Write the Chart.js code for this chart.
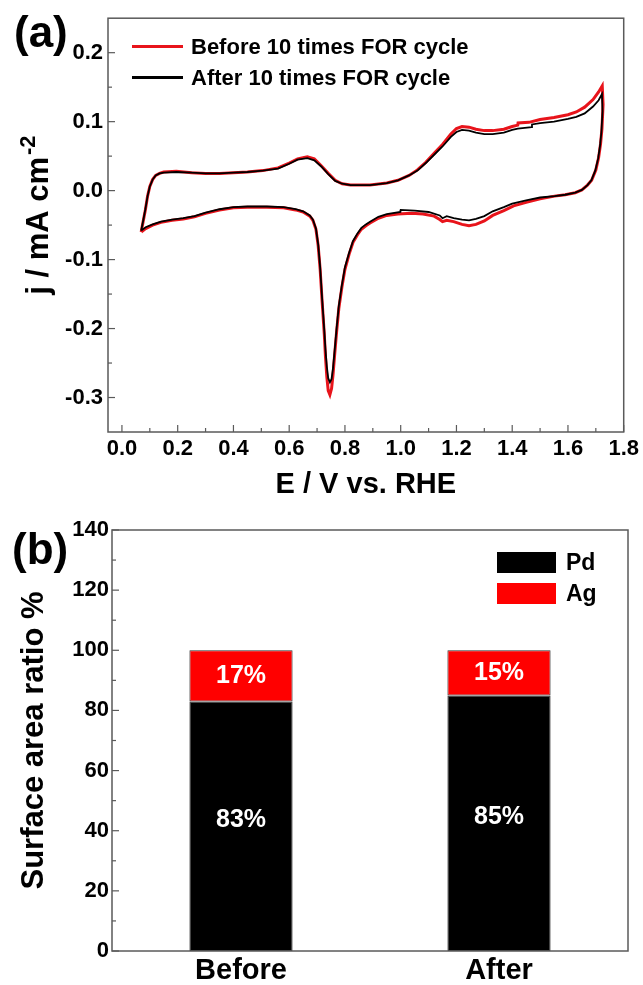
<!DOCTYPE html>
<html>
<head>
<meta charset="utf-8">
<script src="https://cdn.jsdelivr.net/npm/chart.js@4.4.1/dist/chart.umd.min.js"></script>
<style>
  html, body { margin: 0; padding: 0; background: #fff; }
  body { width: 643px; height: 985px; position: relative; overflow: hidden;
         font-family: 'Liberation Sans', Arial, sans-serif; }
  .panel { position: absolute; left: 0; width: 643px; }
  #boxA { top: 0; height: 505px; }
  #boxB { top: 505px; height: 480px; }
  .tag { position: absolute; font-weight: bold; font-size: 44px; line-height: 44px; }
  .leg { position: absolute; font-weight: bold; white-space: nowrap; }
  .leg .row { display: flex; align-items: center; }
  .leg .mark { flex: none; }
</style>
</head>
<body>
<div class="panel" id="boxA">
  <canvas id="cv" width="643" height="505"></canvas>
  <div class="tag" style="left:14px; top:10px;">(a)</div>
  <div class="leg" id="legA" style="left:132px; top:31px;"></div>
</div>
<div class="panel" id="boxB">
  <canvas id="bars" width="643" height="480"></canvas>
  <div class="tag" style="left:12px; top:22px;">(b)</div>
  <div class="leg" id="legB" style="left:497px; top:42px;"></div>
</div>
<script>
const FONT = "'Liberation Sans', Arial, sans-serif";
const NARROW = "'Liberation Sans Narrow', 'Arial Narrow', 'Liberation Sans', Arial, sans-serif";
Chart.defaults.font.family = FONT;
Chart.defaults.color = '#000';

// --- (a) CV data ---
const beforeE = [0.069, 0.076, 0.084, 0.092, 0.100, 0.110, 0.121, 0.135, 0.150, 0.195, 0.25, 0.30, 0.35, 0.40, 0.45, 0.505, 0.56, 0.60, 0.63, 0.665, 0.69, 0.715, 0.74, 0.765, 0.79, 0.82, 0.89, 0.95, 0.99, 1.03, 1.06, 1.09, 1.12, 1.15, 1.18, 1.20, 1.22, 1.245, 1.27, 1.30, 1.33, 1.37, 1.40, 1.42, 1.421, 1.46, 1.50, 1.55, 1.60, 1.63, 1.66, 1.69, 1.71, 1.723,
  1.726, 1.722, 1.717, 1.710, 1.700, 1.685, 1.670, 1.650, 1.626, 1.59, 1.552, 1.50, 1.45, 1.405, 1.37, 1.33, 1.30, 1.27, 1.245, 1.22, 1.19, 1.165, 1.15, 1.14, 1.12, 1.08, 1.04, 0.99, 0.95, 0.92, 0.89, 0.875, 0.859, 0.845, 0.829, 0.815, 0.800, 0.789, 0.778, 0.770, 0.763, 0.757, 0.752, 0.746, 0.740, 0.735, 0.730, 0.726, 0.718, 0.711, 0.704, 0.696, 0.685, 0.674, 0.65, 0.623, 0.58, 0.52, 0.45, 0.40, 0.35, 0.30, 0.26, 0.22, 0.18, 0.14, 0.11, 0.085, 0.069];
const beforeJ = [-0.060, -0.045, -0.028, -0.008, 0.006, 0.016, 0.022, 0.025, 0.027, 0.028, 0.026, 0.025, 0.025, 0.026, 0.027, 0.029, 0.033, 0.040, 0.046, 0.049, 0.046, 0.036, 0.025, 0.015, 0.010, 0.008, 0.008, 0.011, 0.015, 0.022, 0.030, 0.041, 0.054, 0.067, 0.082, 0.090, 0.093, 0.092, 0.089, 0.087, 0.087, 0.089, 0.093, 0.095, 0.098, 0.099, 0.103, 0.106, 0.110, 0.114, 0.121, 0.132, 0.143, 0.152,
  0.125, 0.090, 0.068, 0.048, 0.030, 0.015, 0.008, 0.001, -0.003, -0.006, -0.008, -0.012, -0.017, -0.022, -0.029, -0.036, -0.044, -0.049, -0.051, -0.049, -0.045, -0.043, -0.045, -0.042, -0.037, -0.034, -0.033, -0.034, -0.036, -0.040, -0.047, -0.051, -0.056, -0.064, -0.075, -0.092, -0.114, -0.140, -0.171, -0.205, -0.238, -0.268, -0.287, -0.296, -0.290, -0.270, -0.240, -0.209, -0.160, -0.114, -0.080, -0.056, -0.043, -0.037, -0.031, -0.028, -0.025, -0.024, -0.024, -0.025, -0.028, -0.033, -0.038, -0.041, -0.043, -0.046, -0.050, -0.055, -0.060];

const afterE = [0.069, 0.076, 0.084, 0.092, 0.100, 0.110, 0.121, 0.135, 0.150, 0.195, 0.25, 0.30, 0.35, 0.40, 0.45, 0.505, 0.56, 0.60, 0.63, 0.665, 0.69, 0.715, 0.74, 0.765, 0.79, 0.82, 0.89, 0.95, 0.99, 1.03, 1.06, 1.09, 1.12, 1.15, 1.18, 1.20, 1.22, 1.245, 1.27, 1.30, 1.33, 1.37, 1.40, 1.42, 1.47, 1.471, 1.50, 1.55, 1.60, 1.63, 1.66, 1.69, 1.71, 1.722,
  1.724, 1.720, 1.715, 1.708, 1.698, 1.684, 1.670, 1.650, 1.626, 1.59, 1.552, 1.50, 1.45, 1.40, 1.37, 1.33, 1.30, 1.27, 1.245, 1.22, 1.19, 1.165, 1.15, 1.14, 1.10, 1.05, 1.00, 0.999, 0.95, 0.92, 0.89, 0.875, 0.859, 0.845, 0.829, 0.815, 0.800, 0.789, 0.778, 0.770, 0.763, 0.757, 0.752, 0.746, 0.740, 0.735, 0.730, 0.726, 0.718, 0.711, 0.704, 0.696, 0.685, 0.674, 0.65, 0.623, 0.58, 0.52, 0.45, 0.40, 0.35, 0.30, 0.26, 0.22, 0.18, 0.14, 0.11, 0.085, 0.069];
const afterJ = [-0.058, -0.044, -0.027, -0.008, 0.006, 0.016, 0.022, 0.025, 0.026, 0.027, 0.026, 0.025, 0.025, 0.026, 0.027, 0.029, 0.032, 0.039, 0.045, 0.047, 0.044, 0.035, 0.024, 0.014, 0.010, 0.008, 0.008, 0.011, 0.015, 0.022, 0.029, 0.040, 0.052, 0.064, 0.078, 0.085, 0.088, 0.087, 0.084, 0.082, 0.082, 0.084, 0.088, 0.090, 0.092, 0.096, 0.098, 0.100, 0.104, 0.107, 0.112, 0.122, 0.131, 0.140,
  0.115, 0.085, 0.065, 0.046, 0.029, 0.015, 0.008, 0.001, -0.003, -0.006, -0.008, -0.010, -0.014, -0.019, -0.024, -0.030, -0.037, -0.041, -0.043, -0.042, -0.040, -0.037, -0.040, -0.036, -0.031, -0.029, -0.028, -0.031, -0.034, -0.038, -0.045, -0.049, -0.054, -0.062, -0.073, -0.090, -0.111, -0.137, -0.167, -0.200, -0.232, -0.258, -0.273, -0.278, -0.272, -0.255, -0.230, -0.203, -0.156, -0.111, -0.078, -0.055, -0.042, -0.036, -0.030, -0.027, -0.024, -0.023, -0.023, -0.024, -0.027, -0.032, -0.037, -0.040, -0.042, -0.045, -0.049, -0.053, -0.058];

const eTicks = [0, 0.2, 0.4, 0.6, 0.8, 1.0, 1.2, 1.4, 1.6, 1.8];
const jTicks = [-0.3, -0.2, -0.1, 0, 0.1, 0.2];

// --- (b) surface ratio data ---
const samples = ['Before', 'After'];
const pdRatio = [83, 85];
const agRatio = [17, 15];
const ratioTicks = [0, 20, 40, 60, 80, 100, 120, 140];

const RED = '#e8141b';
const AXIS = '#5a5a5a';

function zip(xs, ys) { return xs.map((x, i) => ({ x: x, y: ys[i] })); }
function mids(t) { return t.slice(1).map((v, i) => (v + t[i]) / 2); }

// frame round the plot area plus inward ticks (major from scale ticks, minor halfway)
const frameTicks = {
  id: 'frameTicks',
  afterDraw(chart, args, opts) {
    const ctx = chart.ctx, a = chart.chartArea;
    ctx.save();
    ctx.strokeStyle = AXIS;
    ctx.lineWidth = 1.5;
    ctx.strokeRect(a.left, a.top, a.right - a.left, a.bottom - a.top);
    ctx.lineWidth = 1.2;
    (opts.axes || []).forEach(ax => {
      const s = chart.scales[ax.id];
      const tick = (v, len) => {
        const p = s.getPixelForValue(v);
        ctx.beginPath();
        if (s.isHorizontal()) { ctx.moveTo(p, a.bottom); ctx.lineTo(p, a.bottom - len); }
        else { ctx.moveTo(a.left, p); ctx.lineTo(a.left + len, p); }
        ctx.stroke();
      };
      const vals = s.ticks.map(t => t.value);
      vals.forEach(v => tick(v, 7));
      mids(vals).forEach(v => tick(v, 4));
    });
    ctx.restore();
  }
};

// y title of (a) with a real superscript
const supTitle = {
  id: 'supTitle',
  afterDraw(chart, args, o) {
    if (!o.text) return;
    const ctx = chart.ctx, a = chart.chartArea;
    ctx.save();
    ctx.translate(o.x, (a.top + a.bottom) / 2 + (o.shift || 0));
    ctx.rotate(-Math.PI / 2);
    ctx.fillStyle = '#000';
    ctx.textBaseline = 'alphabetic';
    const main = 'bold ' + o.size + 'px ' + FONT;
    const sup = 'bold ' + o.supSize + 'px ' + FONT;
    ctx.font = main;
    const w1 = ctx.measureText(o.text).width;
    ctx.font = sup;
    const w2 = ctx.measureText(o.sup).width;
    const x0 = -(w1 + w2 + 2) / 2;
    const base = o.size * 0.36;
    ctx.font = main;
    ctx.fillText(o.text, x0, base);
    ctx.font = sup;
    ctx.fillText(o.sup, x0 + w1 + 2, base - o.size * 0.42);
    ctx.restore();
  }
};

const cvSets = [
  { label: 'Before 10 times FOR cycle', data: zip(beforeE, beforeJ), borderColor: RED, borderWidth: 3, order: 2 },
  { label: 'After 10 times FOR cycle', data: zip(afterE, afterJ), borderColor: '#000', borderWidth: 1.8, order: 1 }
];

new Chart(document.getElementById('cv'), {
  type: 'scatter',
  data: { datasets: cvSets.map(d => Object.assign({ showLine: true, pointRadius: 0, tension: 0, fill: false }, d)) },
  options: {
    responsive: false,
    animation: false,
    layout: { padding: { top: 14, right: 17, left: 0, bottom: 0 } },
    plugins: {
      legend: { display: false },
      tooltip: { enabled: false },
      frameTicks: { axes: [{ id: 'x' }, { id: 'y' }] },
      supTitle: { text: 'j / mA cm', sup: '-2', size: 31, supSize: 22, x: 37, shift: -10 }
    },
    scales: {
      x: {
        type: 'linear', min: -0.05, max: 1.8,
        afterBuildTicks: s => { s.ticks = eTicks.map(v => ({ value: v })); },
        afterFit: s => { s.height = 73; },
        grid: { display: false, drawTicks: false },
        border: { display: false },
        ticks: { padding: 4, font: { family: NARROW, size: 22, weight: 'bold' }, callback: v => v.toFixed(1), maxRotation: 0 },
        title: { display: true, text: 'E / V vs. RHE', font: { size: 29, weight: 'bold' }, padding: { top: 0, bottom: 3 } }
      },
      y: {
        type: 'linear', min: -0.35, max: 0.25,
        afterBuildTicks: s => { s.ticks = jTicks.map(v => ({ value: v })); },
        afterFit: s => { s.width = 108; },
        grid: { display: false, drawTicks: false },
        border: { display: false },
        ticks: { padding: 5, font: { family: NARROW, size: 22, weight: 'bold' }, callback: v => v.toFixed(1) }
      }
    }
  },
  plugins: [frameTicks, supTitle]
});

// white percentage labels inside the stacked bars
const barLabels = {
  id: 'barLabels',
  afterDatasetsDraw(chart) {
    const ctx = chart.ctx;
    ctx.save();
    ctx.fillStyle = '#fff';
    ctx.font = 'bold 25px ' + NARROW;
    ctx.textAlign = 'center';
    ctx.textBaseline = 'middle';
    chart.data.datasets.forEach((ds, di) => {
      chart.getDatasetMeta(di).data.forEach((bar, i) => {
        const p = bar.getProps(['x', 'y', 'base'], true);
        const lift = di === 0 ? 6 : 0;
        ctx.fillText(ds.data[i] + '%', p.x, (p.y + p.base) / 2 - lift);
      });
    });
    ctx.restore();
  }
};

const barSets = [
  { label: 'Pd', data: pdRatio, backgroundColor: '#000' },
  { label: 'Ag', data: agRatio, backgroundColor: '#ff0000' }
];

new Chart(document.getElementById('bars'), {
  type: 'bar',
  data: {
    labels: samples,
    datasets: barSets.map(d => Object.assign({ borderColor: '#333', borderWidth: 1, borderSkipped: false,
      barPercentage: 0.8, categoryPercentage: 0.5 }, d))
  },
  options: {
    responsive: false,
    animation: false,
    layout: { padding: { top: 25, right: 15, left: 0, bottom: 0 } },
    plugins: {
      legend: { display: false },
      tooltip: { enabled: false },
      frameTicks: { axes: [{ id: 'y' }] }
    },
    scales: {
      x: {
        stacked: true,
        afterFit: s => { s.height = 34; },
        grid: { display: false, drawTicks: false },
        border: { display: false },
        ticks: { padding: 3, font: { size: 29, weight: 'bold' } }
      },
      y: {
        stacked: true, min: 0, max: 140,
        afterBuildTicks: s => { s.ticks = ratioTicks.map(v => ({ value: v })); },
        afterFit: s => { s.width = 112; },
        grid: { display: false, drawTicks: false },
        border: { display: false },
        ticks: { padding: 3, font: { family: NARROW, size: 22, weight: 'bold' } },
        title: { display: true, text: 'Surface area ratio %', font: { size: 31, weight: 'bold' }, padding: { top: 16, bottom: 0 } }
      }
    }
  },
  plugins: [frameTicks, barLabels]
});

// legends from the dataset definitions
function buildLegend(id, sets, line) {
  const box = document.getElementById(id);
  sets.forEach(d => {
    const row = document.createElement('div');
    row.className = 'row';
    row.style.height = '31px';
    const mark = document.createElement('span');
    mark.className = 'mark';
    const txt = document.createElement('span');
    txt.textContent = d.label;
    if (line) {
      mark.style.cssText = 'width:51px;height:3px;margin-right:8px;background:' + d.borderColor;
      txt.style.fontSize = '22px';
    } else {
      mark.style.cssText = 'width:59px;height:21px;margin-right:10px;background:' + d.backgroundColor;
      txt.style.fontSize = '23px';
      txt.style.fontFamily = NARROW;
    }
    row.appendChild(mark);
    row.appendChild(txt);
    box.appendChild(row);
  });
}
buildLegend('legA', cvSets, true);
buildLegend('legB', barSets, false);
</script>
</body>
</html>
